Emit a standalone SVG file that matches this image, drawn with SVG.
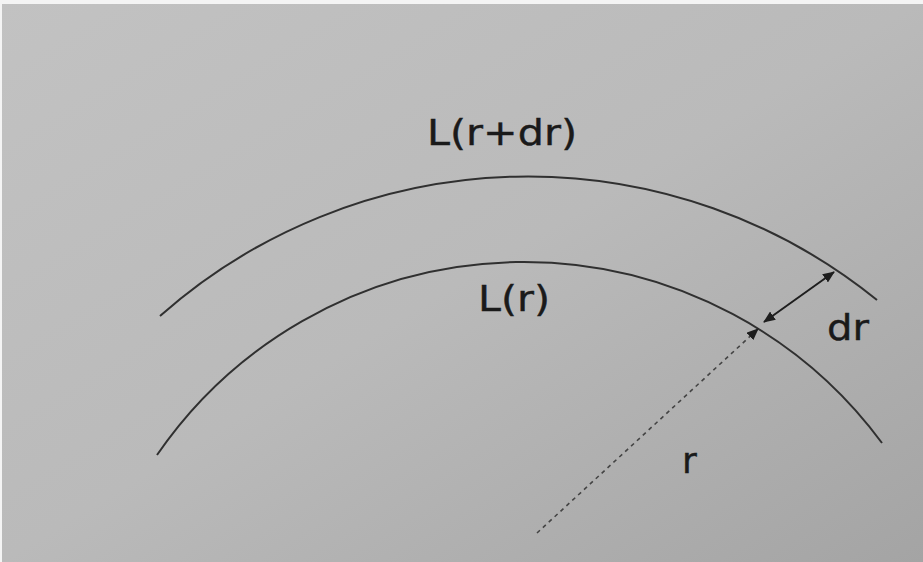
<svg xmlns="http://www.w3.org/2000/svg" width="923" height="562" viewBox="0 0 923 562">
<defs>
<linearGradient id="bg" x1="0" y1="0" x2="1" y2="1">
<stop offset="0" stop-color="#c2c2c2"/>
<stop offset="0.5" stop-color="#bababa"/>
<stop offset="1" stop-color="#a4a4a4"/>
</linearGradient>
<marker id="ah" viewBox="0 0 12 10" refX="11" refY="5" markerWidth="12" markerHeight="10" markerUnits="userSpaceOnUse" orient="auto-start-reverse">
<path d="M0,0 L12,5 L0,10 z" fill="#1e1e1e"/>
</marker>
<style>
.arc{fill:none;stroke:#303030;stroke-width:2}
.lbl{font-family:"DejaVu Sans","Liberation Sans",sans-serif;fill:#1a1a1a;font-size:36px;stroke:#1a1a1a;stroke-width:0.4}
</style>
</defs>
<rect width="923" height="562" fill="url(#bg)"/>
<rect x="0" y="0" width="923" height="4" fill="#f4f4f4"/>
<rect x="0" y="0" width="2" height="562" fill="#f4f4f4"/>
<g id="outer-arc">
<path class="arc" d="M160,316 A555,555 0 0 1 877,300"/>
<text class="lbl" x="427" y="145" font-size="37" textLength="150" lengthAdjust="spacingAndGlyphs">L(r+dr)</text>
</g>
<g id="inner-arc">
<path class="arc" d="M157,455 A445,445 0 0 1 882,443"/>
<text class="lbl" x="478" y="311" textLength="72" lengthAdjust="spacingAndGlyphs">L(r)</text>
</g>
<g id="connectors">
<line x1="764" y1="322" x2="834" y2="272" stroke="#1e1e1e" stroke-width="2" marker-start="url(#ah)" marker-end="url(#ah)"/>
<line x1="537" y1="533" x2="758" y2="329" stroke="#444" stroke-width="1.6" stroke-dasharray="4,4" marker-end="url(#ah)"/>
</g>
<g id="labels">
<text class="lbl" x="827" y="340" textLength="42" lengthAdjust="spacingAndGlyphs">dr</text>
<text class="lbl" x="682" y="473">r</text>
</g>
</svg>
